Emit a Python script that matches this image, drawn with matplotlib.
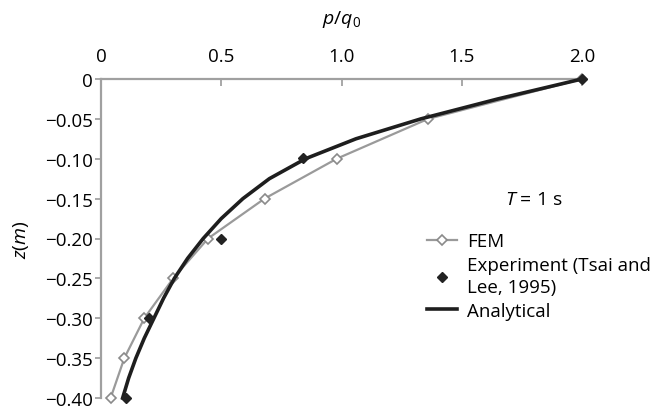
import matplotlib
matplotlib.use("Agg")
import matplotlib.pyplot as plt

plt.rcParams['font.family'] = ['Open Sans', 'DejaVu Sans']
plt.rcParams['mathtext.fontset'] = 'custom'
plt.rcParams['mathtext.rm'] = 'Open Sans'
plt.rcParams['mathtext.it'] = 'Open Sans:italic'

# FEM results
fem_p = [2.0, 1.36, 0.98, 0.68, 0.445, 0.30, 0.18, 0.097, 0.04]
fem_z = [0, -0.05, -0.10, -0.15, -0.20, -0.25, -0.30, -0.35, -0.40]

# Experiment (Tsai and Lee, 1995)
exp_p = [2.0, 0.84, 0.50, 0.20, 0.104]
exp_z = [0, -0.099, -0.20, -0.30, -0.40]

ana_p = [2.0, 1.65, 1.33, 1.06, 0.85, 0.70, 0.59, 0.50, 0.425,
         0.36, 0.305, 0.26, 0.22, 0.18, 0.145, 0.115, 0.09]
ana_z = [0, -0.025, -0.05, -0.075, -0.10, -0.125, -0.15, -0.175, -0.20,
         -0.225, -0.25, -0.275, -0.30, -0.325, -0.35, -0.375, -0.40]

xticks = [0, 0.5, 1.0, 1.5, 2.0]
xticklabels = ['0', '0.5', '1.0', '1.5', '2.0']
yticks = [0, -0.05, -0.10, -0.15, -0.20, -0.25, -0.30, -0.35, -0.40]
yticklabels = ['0', '\u22120.05', '\u22120.10', '\u22120.15', '\u22120.20',
               '\u22120.25', '\u22120.30', '\u22120.35', '\u22120.40']

fig = plt.figure(figsize=(6.56, 4.10), dpi=100)
ax = fig.add_axes([101/656, 1-399/410, (582-101)/656, (399-80)/410])

ax.plot(fem_p, fem_z, '-', color='#9a9a9a', lw=1.6, marker='D', ms=5.5,
        mfc='white', mec='#8a8a8a', mew=1.2, label='FEM', clip_on=False, zorder=3)
ax.plot(exp_p, exp_z, 'D', color='#222222', ms=5.5, ls='none',
        label='Experiment (Tsai and\nLee, 1995)', clip_on=False, zorder=5)
ax.plot(ana_p, ana_z, '-', color='#1e1e1e', lw=2.6, label='Analytical',
        clip_on=False, zorder=4, solid_joinstyle='round')

ax.set_xlim(0, 2.0)
ax.set_ylim(-0.40, 0)
ax.xaxis.tick_top()
ax.xaxis.set_label_position('top')
ax.set_xticks(xticks)
ax.set_xticklabels(xticklabels)
ax.set_yticks(yticks)
ax.set_yticklabels(yticklabels)
ax.tick_params(axis='x', direction='in', length=5, width=1.2, color='#9a9a9a',
               labelsize=13.5, pad=10)
ax.tick_params(axis='y', direction='out', length=4, width=1.2, color='#9a9a9a',
               labelsize=13.5, pad=2)

for s in ['bottom', 'right']:
    ax.spines[s].set_visible(False)
for s in ['top', 'left']:
    ax.spines[s].set_color('#a0a0a0')
    ax.spines[s].set_linewidth(1.6)

ax.set_xlabel('$p/q_0$', fontsize=14, labelpad=17)
ax.set_ylabel('$z$($m$)', fontsize=14, labelpad=10)

fig.text(534/656, 1-200/410, '$T$ = 1 s', fontsize=14, ha='center', va='center')

leg = ax.legend(loc='upper left', bbox_to_anchor=(418/656, 1-224/410),
                bbox_transform=fig.transFigure, frameon=False, fontsize=13.5,
                handlelength=1.6, handletextpad=0.5, labelspacing=0.3,
                borderpad=0)
for t in leg.get_texts():
    t.set_linespacing(1.3)

fig.savefig('out.png', dpi=100)
